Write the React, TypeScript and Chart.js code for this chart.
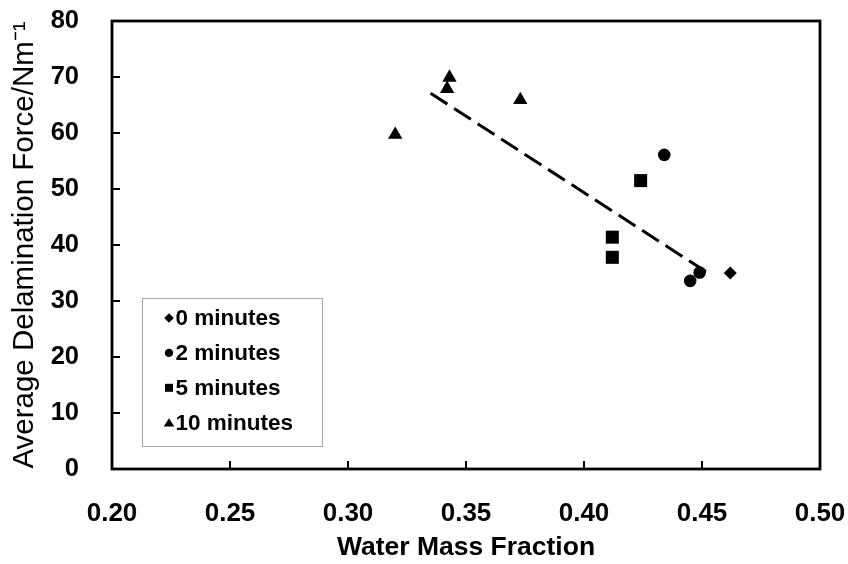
import React, { useEffect, useRef } from "react";
import { Chart, registerables } from "chart.js";

Chart.register(...registerables);

const FONT = "'Liberation Sans', Arial, sans-serif";

const seriesNames = ["0 minutes", "2 minutes", "5 minutes", "10 minutes"];
const seriesStyles = ["rectRot", "circle", "rect", "triangle"];
const seriesRadius = [6.5, 6.3, 9.2, 8.3];

const x0min = [0.462];
const y0min = [35.0];
const x2min = [0.434, 0.445, 0.449];
const y2min = [56.1, 33.6, 35.1];
const x5min = [0.424, 0.412, 0.412];
const y5min = [51.5, 41.4, 37.8];
const x10min = [0.32, 0.342, 0.343, 0.373];
const y10min = [59.7, 67.9, 69.9, 65.9];
const trendX = [0.335, 0.454];
const trendY = [67.1, 34.6];

const xTicks = [0.2, 0.25, 0.3, 0.35, 0.4, 0.45, 0.5];
const yTicks = [0, 10, 20, 30, 40, 50, 60, 70, 80];

const zip = (xs: number[], ys: number[]) => xs.map((x, i) => ({ x, y: ys[i] }));

function drawMarker(ctx: CanvasRenderingContext2D, style: string, x: number, y: number, s: number) {
  ctx.beginPath();
  if (style === "rectRot") {
    ctx.moveTo(x, y - s);
    ctx.lineTo(x + s, y);
    ctx.lineTo(x, y + s);
    ctx.lineTo(x - s, y);
    ctx.closePath();
  } else if (style === "circle") {
    ctx.arc(x, y, s, 0, Math.PI * 2);
  } else if (style === "rect") {
    ctx.rect(x - s, y - s, 2 * s, 2 * s);
  } else {
    ctx.moveTo(x, y - s * 0.95);
    ctx.lineTo(x + s * 1.1, y + s * 0.8);
    ctx.lineTo(x - s * 1.1, y + s * 0.8);
    ctx.closePath();
  }
  ctx.fill();
}

const framePlugin = {
  id: "frame",
  afterDraw(chart: any) {
    const { ctx, chartArea } = chart;
    const { left, right, top, bottom } = chartArea;
    const xs = chart.scales.x;
    const ys = chart.scales.y;
    ctx.save();
    ctx.strokeStyle = "#000";
    ctx.lineWidth = 2;
    ctx.beginPath();
    xTicks.slice(1, -1).forEach((v) => {
      const px = Math.round(xs.getPixelForValue(v));
      ctx.moveTo(px, bottom);
      ctx.lineTo(px, bottom - 8);
    });
    yTicks.slice(1, -1).forEach((v) => {
      const py = Math.round(ys.getPixelForValue(v));
      ctx.moveTo(left, py);
      ctx.lineTo(left + 8, py);
    });
    ctx.stroke();
    ctx.lineWidth = 2.8;
    ctx.strokeRect(left, top, right - left, bottom - top);

    // legend
    const lx = 142, ly = 298, lw = 180, lh = 148;
    ctx.fillStyle = "#fff";
    ctx.fillRect(lx, ly, lw, lh);
    ctx.lineWidth = 1;
    ctx.strokeStyle = "#a6a6a6";
    ctx.strokeRect(lx + 0.5, ly + 0.5, lw, lh);
    ctx.fillStyle = "#000";
    ctx.font = `bold 22.5px ${FONT}`;
    ctx.textBaseline = "middle";
    ctx.textAlign = "left";
    const legendSizes = [4.8, 4.2, 4, 4.8];
    seriesNames.forEach((name, i) => {
      const cy = 318 + i * 34.9;
      drawMarker(ctx, seriesStyles[i], 169, cy, legendSizes[i]);
      ctx.fillText(name, 175.5, cy + 1);
    });
    ctx.restore();
  },
};

export default function App() {
  const ref = useRef<HTMLCanvasElement | null>(null);
  useEffect(() => {
    if (!ref.current) return;
    const pts = [zip(x0min, y0min), zip(x2min, y2min), zip(x5min, y5min), zip(x10min, y10min)];
    const datasets: any[] = pts.map((data, i) => ({
      type: "scatter",
      label: seriesNames[i],
      data,
      pointStyle: seriesStyles[i],
      pointRadius: seriesRadius[i],
      pointHoverRadius: seriesRadius[i],
      backgroundColor: "#000",
      borderColor: "#000",
      borderWidth: 0,
    }));
    datasets.push({
      type: "line",
      label: "trend",
      data: zip(trendX, trendY),
      borderColor: "#000",
      borderWidth: 3,
      borderDash: [20, 8],
      pointRadius: 0,
      fill: false,
    });
    const chart = new Chart(ref.current, {
      type: "scatter",
      data: { datasets },
      options: {
        animation: false,
        responsive: true,
        maintainAspectRatio: false,
        layout: { padding: { top: 21, right: 28, left: 0, bottom: 0 } },
        plugins: { legend: { display: false }, tooltip: { enabled: false } },
        scales: {
          x: {
            type: "linear",
            min: 0.2,
            max: 0.5,
            grid: { display: false },
            border: { display: false },
            afterFit: (s: any) => {
              s.height = 95;
              s.paddingLeft = 0;
              s.paddingRight = 0;
            },
            afterBuildTicks: (s: any) => {
              s.ticks = xTicks.map((v) => ({ value: v }));
            },
            ticks: {
              autoSkip: false,
              maxRotation: 0,
              padding: 21,
              color: "#000",
              font: { family: FONT, size: 26, weight: "bold" },
              callback: (v: any) => Number(v).toFixed(2),
            },
            title: {
              display: true,
              text: "Water Mass Fraction",
              color: "#000",
              padding: { top: 0, bottom: 0 },
              font: { family: FONT, size: 26.5, weight: "bold" },
            },
          },
          y: {
            type: "linear",
            min: 0,
            max: 80,
            grid: { display: false },
            border: { display: false },
            afterFit: (s: any) => {
              s.width = 112;
              s.paddingTop = 0;
              s.paddingBottom = 0;
            },
            afterBuildTicks: (s: any) => {
              s.ticks = yTicks.map((v) => ({ value: v }));
            },
            ticks: {
              padding: 25,
              color: "#000",
              font: { family: FONT, size: 25.5, weight: "bold" },
            },
            title: {
              display: true,
              text: "Average Delamination Force/Nm⁻¹",
              color: "#000",
              padding: { top: 7, bottom: 0 },
              font: { family: FONT, size: 29.5, weight: "normal" },
            },
          },
        },
      },
      plugins: [framePlugin],
    } as any);
    return () => chart.destroy();
  }, []);
  return (
    <div style={{ position: "absolute", left: 0, top: 0, width: 848, height: 564, background: "#fff" }}>
      <canvas ref={ref} />
    </div>
  );
}
